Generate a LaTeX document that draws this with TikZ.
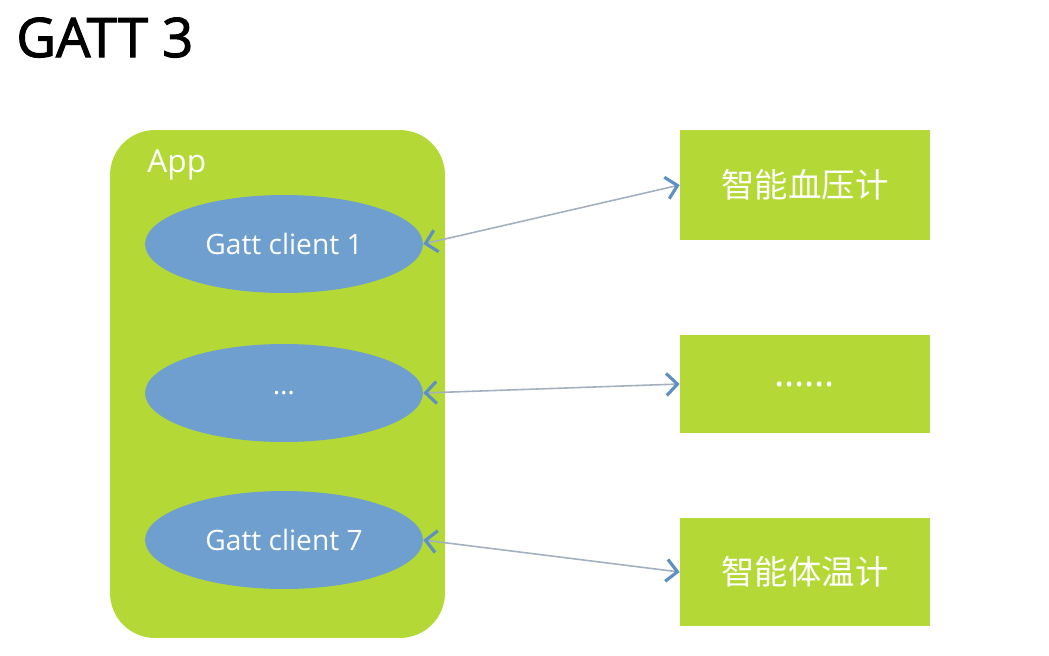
\documentclass[tikz,border=0pt]{standalone}
\usepackage{fontspec}
\setmainfont{Open Sans}
\newfontfamily\cjk{Noto Sans CJK SC}
\newfontfamily\heavy[FakeBold=2]{Open Sans}
\usetikzlibrary{shapes.geometric,arrows.meta}
\definecolor{appgreen}{HTML}{B4D936}
\definecolor{clientblue}{HTML}{6F9FCF}
\definecolor{linkgray}{HTML}{A3B0C0}
\definecolor{tipblue}{HTML}{5F8FC4}
\tikzset{
  client/.style={draw=none, fill=clientblue, ellipse, inner sep=0pt,
    minimum width=5.56cm, minimum height=1.96cm, text=white, font=\fontsize{16}{19}\selectfont},
  device/.style={draw=none, fill=appgreen, rectangle, inner sep=0pt,
    minimum width=5cm, text=white, font=\cjk\fontsize{19}{22}\selectfont},
  link/.style={draw=linkgray, line width=0.9pt,
    {Straight Barb[color=tipblue, line width=1.8pt, length=2.2mm, width=4.4mm]}-{Straight Barb[color=tipblue, line width=1.8pt, length=2.2mm, width=4.4mm]}}
}
\begin{document}
\begin{tikzpicture}[x=0.02cm, y=-0.02cm]
                \useasboundingbox (0,0) rectangle (1049,656);
                % Titre
                \node[anchor=base west, inner sep=0pt, font=\heavy\fontsize{31}{36}\selectfont] (titre) at (16,57) {GATT 3};

                % Bloc App et ses clients
                \node[fill=appgreen, rounded corners=0.9cm, minimum width=6.7cm, minimum height=10.16cm] (app) at (277.5,384) {};
                \node[anchor=base west, inner sep=0pt, text=white, font=\fontsize{18}{21}\selectfont] (applabel) at (147,172) {App};
                \node[client] (c1) at (284,244) {Gatt client 1};
                \node[client] (c2) at (284,393) {\ldots};
                \node[client] (c3) at (284,540) {Gatt client 7};

                % Appareils
                \node[device, minimum height=2.2cm] (d1) at (805,185) {智能血压计};
                \node[device, minimum height=1.96cm] (d2) at (805,384) {\fontspec{Open Sans}\fontsize{22}{24}\selectfont\ldots\ldots};
                \node[device, minimum height=2.18cm] (d3) at (805,572) {智能体温计};

                % Liaisons
                \draw[link] (c1.east) -- (d1.west);
                \draw[link] (c2.east) -- (d2.west);
                \draw[link] (c3.east) -- (d3.west);
            \end{tikzpicture}
\end{document}
